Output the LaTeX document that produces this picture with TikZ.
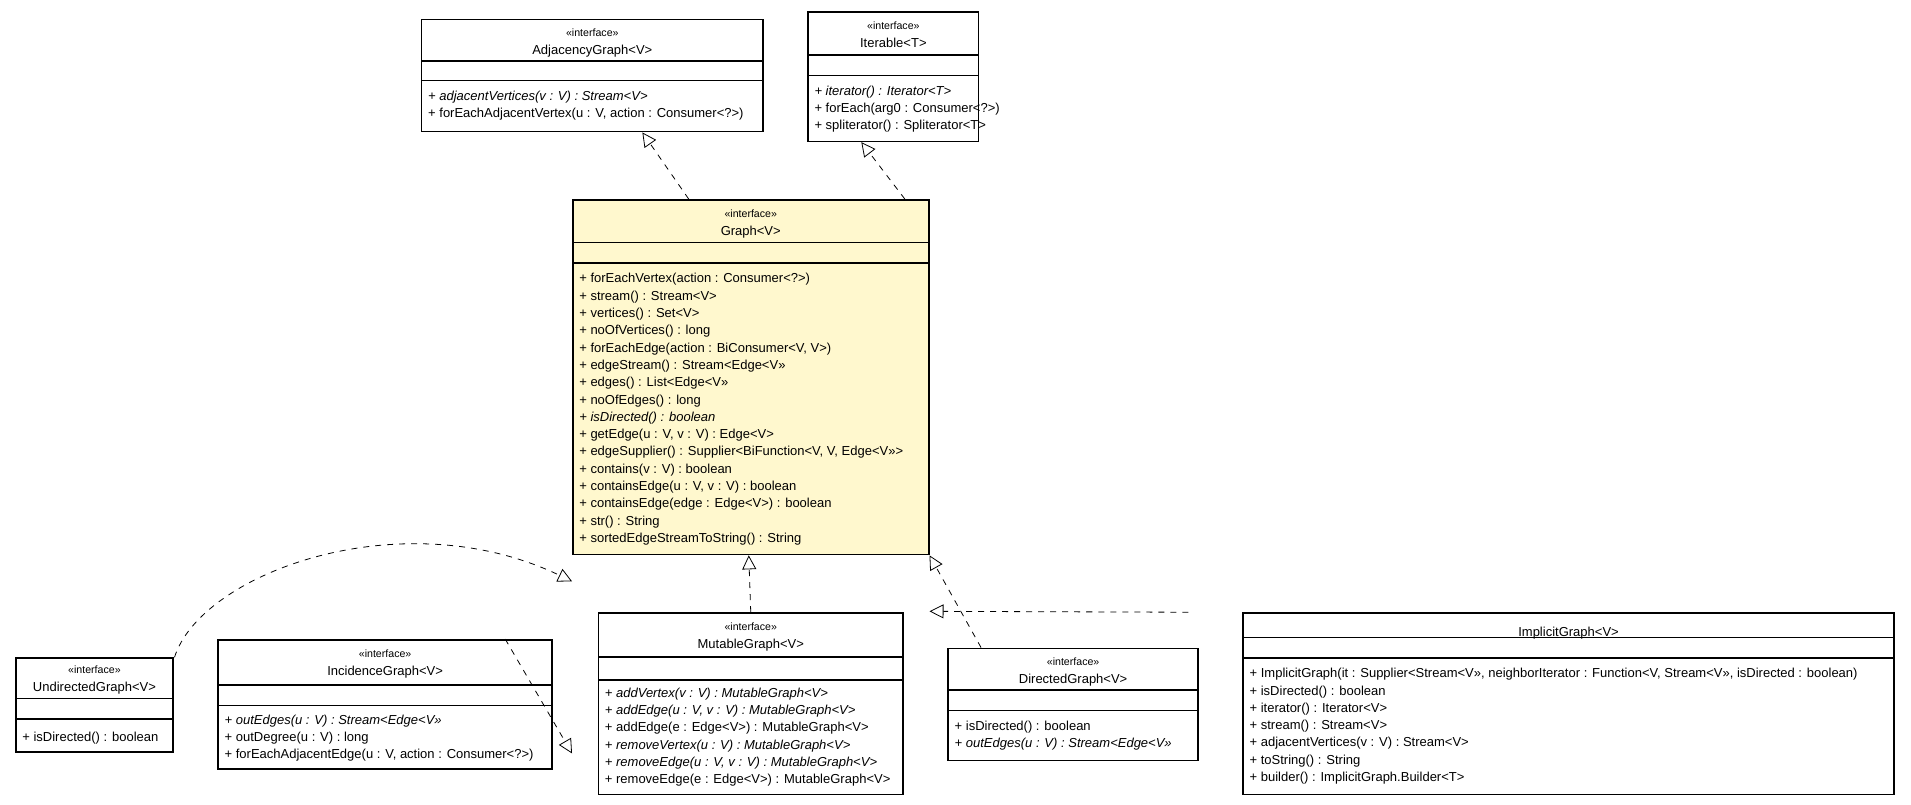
\documentclass[tikz,border=0pt]{standalone}
\usepackage{fontspec}
\setmainfont{Liberation Sans}
\usetikzlibrary{fit,arrows.meta}

\definecolor{graphfill}{RGB}{255,248,206}

\tikzset{
box/.style={draw, thick, fill=white, inner sep=0pt},
hdr/.style={anchor=north, align=center, inner sep=0pt, font=\fontsize{6.5}{9.1}\selectfont},
ops/.style={anchor=north west, align=left, inner sep=0pt, font=\fontsize{6.5}{8.65}\selectfont},
realize/.style={draw, thin, dashed, -{Triangle[open, length=7pt, width=7pt]}}
}
\newcommand{\stereo}{{\fontsize{5.3}{9.1}\selectfont «interface»}}
% box: style, name, x1, y1, x2, y2, first and second divider
\newcommand{\umlclass}[8][]{
\coordinate (#2-nw) at (#3,-#4);
\coordinate (#2-se) at (#5,-#6);
\node [box, fit=(#2-nw)(#2-se), #1] (#2) {};
\draw [thick] (#3,-#7) -- (#5,-#7) (#3,-#8) -- (#5,-#8);
}

\begin{document}
\begin{tikzpicture}[x=0.609pt, y=0.609pt]
\useasboundingbox (0,0) rectangle (1568,-660);

\umlclass{adj}{346}{16}{626}{108}{50}{66}
\node [hdr] at ([yshift=-5]adj.north) {\stereo\\AdjacencyGraph<V>};
\node [ops] at (351,-74) {\textit{+ adjacentVertices(v : V) : Stream<V>}\\+ forEachAdjacentVertex(u : V, action : Consumer<?>)};

\umlclass{iter}{663}{10}{803}{116}{45}{62}
\node [hdr] at ([yshift=-5]iter.north) {\stereo\\Iterable<T>};
\node [ops] at (668,-70) {\textit{+ iterator() : Iterator<T>}\\+ forEach(arg0 : Consumer<?>)\\+ spliterator() : Spliterator<T>};

\umlclass[fill=graphfill]{graph}{470}{164}{762}{455}{199}{216}
\node [hdr] at ([yshift=-5]graph.north) {\stereo\\Graph<V>};
\node [ops] at (475,-224) {+ forEachVertex(action : Consumer<?>)\\+ stream() : Stream<V>\\+ vertices() : Set<V>\\+ noOfVertices() : long\\+ forEachEdge(action : BiConsumer<V, V>)\\+ edgeStream() : Stream<Edge<V>>\\+ edges() : List<Edge<V>>\\+ noOfEdges() : long\\\textit{+ isDirected() : boolean}\\+ getEdge(u : V, v : V) : Edge<V>\\+ edgeSupplier() : Supplier<BiFunction<V, V, Edge<V>>>\\+ contains(v : V) : boolean\\+ containsEdge(u : V, v : V) : boolean\\+ containsEdge(edge : Edge<V>) : boolean\\+ str() : String\\+ sortedEdgeStreamToString() : String};

\umlclass{undir}{13}{540}{142}{617}{573}{590}
\node [hdr] at ([yshift=-4]undir.north) {\stereo\\UndirectedGraph<V>};
\node [ops] at (18,-600) {+ isDirected() : boolean};

\umlclass{inc}{179}{525}{453}{631}{562}{579}
\node [hdr] at ([yshift=-5]inc.north) {\stereo\\IncidenceGraph<V>};
\node [ops] at (184,-586) {\textit{+ outEdges(u : V) : Stream<Edge<V>>}\\+ outDegree(u : V) : long\\+ forEachAdjacentEdge(u : V, action : Consumer<?>)};

\umlclass{mut}{491}{503}{741}{652}{539}{558}
\node [hdr] at ([yshift=-5]mut.north) {\stereo\\MutableGraph<V>};
\node [ops] at (496,-564) {\textit{+ addVertex(v : V) : MutableGraph<V>}\\\textit{+ addEdge(u : V, v : V) : MutableGraph<V>}\\+ addEdge(e : Edge<V>) : MutableGraph<V>\\\textit{+ removeVertex(u : V) : MutableGraph<V>}\\\textit{+ removeEdge(u : V, v : V) : MutableGraph<V>}\\+ removeEdge(e : Edge<V>) : MutableGraph<V>};

\umlclass{dir}{778}{532}{983}{624}{566}{583}
\node [hdr] at ([yshift=-5]dir.north) {\stereo\\DirectedGraph<V>};
\node [ops] at (783,-591) {+ isDirected() : boolean\\\textit{+ outEdges(u : V) : Stream<Edge<V>>}};

\umlclass{impl}{1020}{503}{1554}{652}{523}{540}
\node [hdr] at ([yshift=-7]impl.north) {ImplicitGraph<V>};
\node [ops] at (1025,-548) {+ ImplicitGraph(it : Supplier<Stream<V>>, neighborIterator : Function<V, Stream<V>>, isDirected : boolean)\\+ isDirected() : boolean\\+ iterator() : Iterator<V>\\+ stream() : Stream<V>\\+ adjacentVertices(v : V) : Stream<V>\\+ toString() : String\\+ builder() : ImplicitGraph.Builder<T>};

% realizations
\draw [realize] ([xshift=-31]graph.north) -- ([xshift=25]adj.south);
\draw [realize] ([xshift=77]graph.north) -- ([xshift=-16]iter.south);
\draw [realize] ([xshift=40]undir.north) .. controls (165,-470) and (330,-410) .. ([yshift=-191]graph.north west);
\draw [realize] ([xshift=60]inc.north) -- ([yshift=-277]graph.north west);
\draw [realize] (mut.north) -- ([xshift=-1]graph.south);
\draw [realize] ([xshift=-46]dir.north) -- (graph.south east);
\draw [realize] ([xshift=-190]impl.north) -- ([yshift=-206]graph.north east);
\end{tikzpicture}
\end{document}
